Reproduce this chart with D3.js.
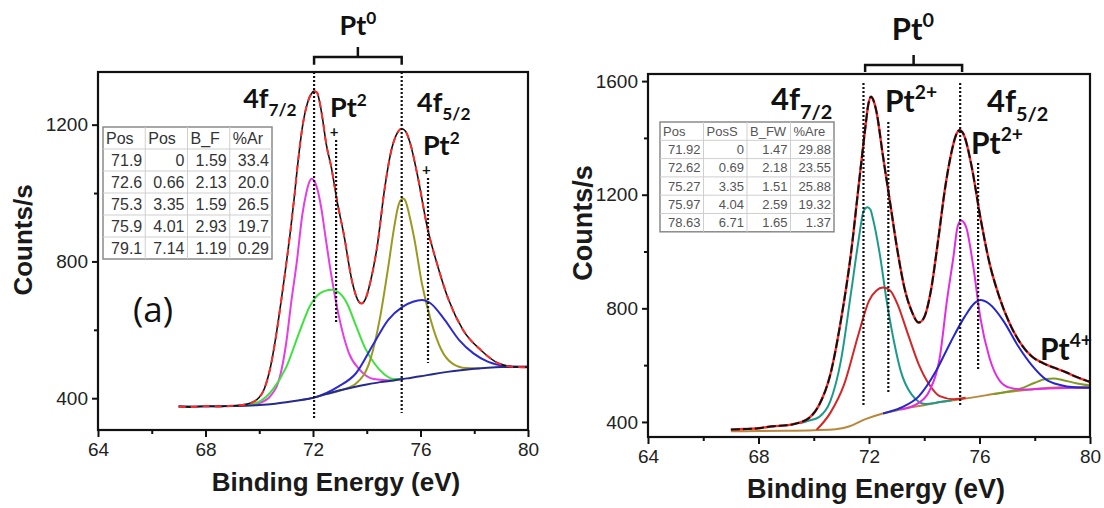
<!DOCTYPE html>
<html>
<head>
<meta charset="utf-8">
<script src="https://cdn.jsdelivr.net/npm/d3@7/dist/d3.min.js"></script>
<style>
  body { margin: 0; background: #fff; }
  svg { display: block; }
</style>
</head>
<body>
<svg id="chart" width="1104" height="508"></svg>
<script>
// ---- data ----
const energyTicks = [64, 68, 72, 76, 80];
const energyMinor = [66, 70, 74, 78];
const countTicksA = [400, 800, 1200];
const countMinorA = [600, 1000];
const countTicksB = [400, 800, 1200, 1600];
const countMinorB = [600, 1000, 1400];

// panel (a): [binding energy, counts/s]
const envelopeA = [[67.0,376],[67.5,374],[68.0,377],[68.5,376],[69.0,378],[69.5,382],[69.9,395],[70.2,430],[70.42,492],[70.62,580],[70.82,687],[71.0,790],[71.15,882],[71.3,985],[71.42,1076],[71.62,1200],[71.8,1265],[71.95,1292],[72.05,1298],[72.15,1294],[72.25,1265],[72.34,1225],[72.5,1140],[72.68,1076],[72.9,975],[73.14,882],[73.47,736],[73.65,690],[73.8,677],[73.95,690],[74.15,745],[74.4,850],[74.66,1010],[74.9,1120],[75.1,1170],[75.3,1188],[75.45,1180],[75.6,1150],[75.9,1047],[76.25,901],[76.65,784],[77.05,687],[77.58,600],[78.24,541],[78.9,502],[79.43,492],[80.0,490]];
const backgroundA = [[67,376],[68,376],[69,377],[70,380],[70.5,383],[71,388],[71.5,394],[72,401],[72.5,412],[73,423],[73.5,432],[74,440],[74.5,447],[75,452],[75.5,458],[76,464],[76.5,471],[77,477],[77.5,482],[78,486],[78.5,489],[79,491],[80,492]];
const pt0_72A = [[69.5,380],[70.0,386],[70.4,405],[70.8,473],[71.0,560],[71.2,687],[71.4,800],[71.6,935],[71.75,1000],[71.85,1030],[71.95,1042],[72.05,1035],[72.15,1015],[72.3,960],[72.45,880],[72.67,765],[72.94,648],[73.34,531],[73.74,483],[74.26,456],[74.9,452],[75.3,456]];
const pt2_72A = [[69.5,380],[70.0,390],[70.5,425],[71.0,490],[71.5,595],[71.9,672],[72.2,703],[72.45,714],[72.7,717],[72.95,710],[73.25,680],[73.6,612],[73.95,545],[74.3,500],[74.65,470],[75.0,456],[75.3,456]];
const pt0_75A = [[72.5,412],[73.07,424],[73.6,443],[74.13,512],[74.5,638],[74.8,784],[75.0,890],[75.15,955],[75.25,978],[75.35,984],[75.45,975],[75.6,930],[75.78,862],[76.05,736],[76.38,629],[76.78,541],[77.18,502],[77.7,488],[78.2,487]];
const pt2_76A = [[71.5,394],[72.0,401],[72.94,434],[73.6,473],[74.26,560],[74.8,629],[75.33,667],[75.72,682],[76.05,687],[76.38,677],[76.9,629],[77.44,570],[77.97,531],[78.5,507],[79.2,494],[80,492]];

// panel (b)
const envelopeB = [[67.0,373],[67.5,375],[68.0,378],[68.55,385],[69.0,388],[69.3,393],[69.83,414],[70.2,461],[70.6,567],[70.98,756],[71.36,1003],[71.62,1227],[71.87,1439],[71.97,1515],[72.07,1545],[72.17,1530],[72.26,1497],[72.51,1333],[72.77,1168],[73.03,1003],[73.28,873],[73.54,791],[73.8,750],[73.99,767],[74.24,862],[74.5,1038],[74.76,1227],[75.0,1356],[75.15,1410],[75.27,1427],[75.38,1420],[75.46,1404],[75.72,1297],[76.03,1121],[76.36,960],[76.7,845],[77.1,745],[77.5,675],[77.9,630],[78.3,607],[78.7,591],[79.1,576],[79.55,557],[80.0,541]];
const backgroundB = [[67,367],[68,368],[69,369],[70,371],[70.8,374],[71.3,385],[71.87,410],[72.5,430],[73.15,444],[73.8,456],[74.43,467],[75.33,480],[76.0,490],[76.5,498],[77,505],[77.5,511],[78,516],[78.5,520],[79,522],[80,524]];
const pt4B = [[76.5,498],[77.0,506],[77.5,518],[78.0,538],[78.4,551],[78.7,553],[79.0,548],[79.5,536],[80.0,528]];
const pt0_72B = [[69.5,395],[69.83,405],[70.2,418],[70.6,473],[70.98,614],[71.36,862],[71.62,1038],[71.81,1144],[71.94,1156],[72.05,1148],[72.13,1121],[72.39,991],[72.64,826],[72.9,685],[73.15,579],[73.54,497],[74.05,463],[74.56,470],[75.0,476]];
const pt2_72B = [[70.1,372],[70.6,432],[71.1,532],[71.62,709],[72.0,826],[72.26,862],[72.51,873],[72.77,862],[73.03,815],[73.41,709],[73.8,603],[74.18,532],[74.56,491],[75.07,480],[75.5,485]];
const pt0_75B = [[73.15,444],[73.8,467],[74.18,508],[74.56,626],[74.82,826],[75.07,991],[75.2,1085],[75.33,1109],[75.45,1100],[75.52,1085],[75.78,944],[76.03,767],[76.36,626],[76.74,544],[77.12,520],[77.64,514],[78.5,518],[80,520]];
const pt2_76B = [[72.51,430],[73.15,450],[73.8,490],[74.43,580],[74.95,680],[75.46,770],[75.84,820],[76.03,829],[76.36,815],[76.87,755],[77.38,670],[77.89,600],[78.4,550],[78.92,530],[79.43,522],[80,520]];

// fit tables
const tableHeadA = ["Pos", "Pos", "B_F", "%Ar"];
const tableRowsA = [
  ["71.9", "0", "1.59", "33.4"],
  ["72.6", "0.66", "2.13", "20.0"],
  ["75.3", "3.35", "1.59", "26.5"],
  ["75.9", "4.01", "2.93", "19.7"],
  ["79.1", "7.14", "1.19", "0.29"]
];
const tableHeadB = ["Pos", "PosS", "B_FW", "%Are"];
const tableRowsB = [
  ["71.92", "0", "1.47", "29.88"],
  ["72.62", "0.69", "2.18", "23.55"],
  ["75.27", "3.35", "1.51", "25.88"],
  ["75.97", "4.04", "2.59", "19.32"],
  ["78.63", "6.71", "1.65", "1.37"]
];

const svg = d3.select("#chart");
const tickFont = "'Liberation Sans', Arial, sans-serif";
const noteFont = "Lato, 'Open Sans', sans-serif";

// text with sub / superscript parts
function richText(g, x, y, parts, size) {
  const t = g.append("text")
    .attr("x", x).attr("y", y)
    .attr("font-family", noteFont)
    .attr("font-weight", 700)
    .attr("font-size", size)
    .attr("fill", "#111");
  let shift = 0;
  parts.forEach(p => {
    const target = p.sub ? size * 0.3 : p.sup ? -size * 0.42 : 0;
    t.append("tspan")
      .attr("dy", target - shift)
      .attr("font-size", p.sub || p.sup ? size * 0.64 : size)
      .text(p.t);
    shift = target;
  });
  return t;
}

function drawTable(g, x0, y0, colW, rowH, head, rows, size, color) {
  const tg = g.append("g").attr("font-family", tickFont).attr("font-size", size).attr("fill", color);
  const all = [head, ...rows];
  const w = colW * head.length, h = rowH * all.length;
  tg.append("rect").attr("x", x0).attr("y", y0).attr("width", w).attr("height", h)
    .attr("fill", "#fff").attr("stroke", "#8a8a8a").attr("stroke-width", 1.5);
  for (let i = 1; i < head.length; i++)
    tg.append("line").attr("x1", x0 + i * colW).attr("x2", x0 + i * colW)
      .attr("y1", y0).attr("y2", y0 + h).attr("stroke", "#cfcfcf");
  for (let j = 1; j < all.length; j++)
    tg.append("line").attr("x1", x0).attr("x2", x0 + w)
      .attr("y1", y0 + j * rowH).attr("y2", y0 + j * rowH).attr("stroke", "#cfcfcf");
  all.forEach((row, j) => row.forEach((cell, i) => {
    tg.append("text")
      .attr("x", j === 0 ? x0 + i * colW + 3 : x0 + (i + 1) * colW - 3)
      .attr("y", y0 + j * rowH + rowH / 2)
      .attr("dy", "0.36em")
      .attr("text-anchor", j === 0 ? "start" : "end")
      .text(cell);
  }));
}

function drawPanel(cfg) {
  const x = d3.scaleLinear([64, 80], [cfg.left, cfg.right]);
  const y = d3.scaleLinear(cfg.yDomain, [cfg.bottom, cfg.top]);
  const g = svg.append("g");

  const line = d3.line()
    .curve(d3.curveMonotoneX)
    .x(d => x(d[0]))
    .y(d => y(d[1]));

  // components first, envelope on top
  cfg.components.forEach(c => {
    g.append("path").attr("d", line(c.data))
      .attr("fill", "none").attr("stroke", c.color).attr("stroke-width", 2);
  });
  cfg.envelopeLayers.forEach(s => {
    g.append("path").attr("d", line(cfg.envelope))
      .attr("fill", "none").attr("stroke", s.color).attr("stroke-width", s.width)
      .attr("stroke-dasharray", s.dash || null);
  });

  // dotted peak markers
  cfg.markers.forEach(m => {
    g.append("line")
      .attr("x1", x(m.e)).attr("x2", x(m.e))
      .attr("y1", y(m.from)).attr("y2", y(m.to))
      .attr("stroke", "#111").attr("stroke-width", 2.2)
      .attr("stroke-dasharray", "2,2");
  });

  // axes
  const xAxis = g.append("g").attr("transform", `translate(0,${cfg.bottom})`)
    .call(d3.axisBottom(x).tickValues(energyTicks).tickSize(7).tickPadding(6).tickFormat(d3.format("d")));
  g.append("g").attr("transform", `translate(0,${cfg.bottom})`)
    .call(d3.axisBottom(x).tickValues(energyMinor).tickSize(4).tickFormat(""))
    .call(a => a.select(".domain").remove());
  const yAxis = g.append("g").attr("transform", `translate(${cfg.left},0)`)
    .call(d3.axisLeft(y).tickValues(cfg.yTicks).tickSize(6).tickPadding(4).tickFormat(d3.format("d")));
  g.append("g").attr("transform", `translate(${cfg.left},0)`)
    .call(d3.axisLeft(y).tickValues(cfg.yMinor).tickSize(4).tickFormat(""))
    .call(a => a.select(".domain").remove());
  [xAxis, yAxis].forEach(a => {
    a.select(".domain").remove();
    a.selectAll("text").attr("font-family", tickFont).attr("font-size", 19).attr("fill", "#222");
  });
  g.selectAll(".tick line").attr("stroke", "#111").attr("stroke-width", 2);

  g.append("rect")
    .attr("x", cfg.left).attr("y", cfg.top)
    .attr("width", cfg.right - cfg.left).attr("height", cfg.bottom - cfg.top)
    .attr("fill", "none").attr("stroke", "#111").attr("stroke-width", 2.2);

  // axis titles
  g.append("text")
    .attr("x", (cfg.left + cfg.right) / 2 + cfg.xTitleDx).attr("y", cfg.xTitleY)
    .attr("text-anchor", "middle")
    .attr("font-family", tickFont).attr("font-weight", 700).attr("font-size", cfg.titleSize)
    .attr("fill", "#1a1a1a")
    .text("Binding Energy (eV)");
  g.append("text")
    .attr("transform", `translate(${cfg.yTitleX},${cfg.yTitleY}) rotate(-90)`)
    .attr("text-anchor", "middle")
    .attr("dy", "0.36em")
    .attr("font-family", tickFont).attr("font-weight", 700).attr("font-size", cfg.titleSize)
    .attr("fill", "#1a1a1a")
    .text("Counts/s");

  // Pt0 bracket
  const b = cfg.bracket;
  g.append("path")
    .attr("d", `M${x(b.e0)},${y(b.end)}V${y(b.bar)}H${x(b.e1)}V${y(b.end)}M${(x(b.e0) + x(b.e1)) / 2},${y(b.bar)}V${y(b.tip)}`)
    .attr("fill", "none").attr("stroke", "#111").attr("stroke-width", 2.5);

  cfg.labels.forEach(l => richText(g, x(l.e), y(l.c), l.parts, l.size).attr("text-anchor", l.anchor || "start"));

  drawTable(g, cfg.table.x, cfg.table.y, cfg.table.colW, cfg.table.rowH,
    cfg.table.head, cfg.table.rows, cfg.table.size, cfg.table.color);

  return {g, x, y};
}

// ---- panel (a) ----
const pa = drawPanel({
  left: 98, right: 528, top: 72, bottom: 430, yDomain: [307, 1354],
  yTicks: countTicksA, yMinor: countMinorA,
  envelope: envelopeA,
  envelopeLayers: [{color: "#111", width: 1.6}, {color: "#ff2a2a", width: 2, dash: "7,5"}],
  components: [
    {data: pt0_72A, color: "#e43ee4"},
    {data: pt2_72A, color: "#3ee23e"},
    {data: pt0_75A, color: "#9a9a22"},
    {data: pt2_76A, color: "#2b2bd0"},
    {data: backgroundA, color: "#262a8c"}
  ],
  markers: [
    {e: 72.04, from: 1354, to: 342},
    {e: 75.3, from: 1354, to: 357},
    {e: 72.86, from: 1155, to: 620},
    {e: 76.28, from: 1044, to: 503}
  ],
  bracket: {e0: 72.04, e1: 75.3, bar: 1398, end: 1375, tip: 1427},
  labels: [
    {e: 73.67, c: 1462, size: 27, anchor: "middle", parts: [{t: "Pt"}, {t: "0", sup: true}]},
    {e: 69.4, c: 1249, size: 27, parts: [{t: "4f"}, {t: "7/2", sub: true}]},
    {e: 72.63, c: 1222, size: 27, parts: [{t: "Pt"}, {t: "2", sup: true}]},
    {e: 72.62, c: 1164, size: 15, parts: [{t: "+"}]},
    {e: 75.87, c: 1237, size: 27, parts: [{t: "4f"}, {t: "5/2", sub: true}]},
    {e: 76.09, c: 1111, size: 27, parts: [{t: "Pt"}, {t: "2", sup: true}]},
    {e: 76.06, c: 1053, size: 15, parts: [{t: "+"}]}
  ],
  table: {x: 103, y: 127, colW: 42.25, rowH: 22, head: tableHeadA, rows: tableRowsA, size: 16, color: "#333"},
  titleSize: 26, xTitleDx: 23, xTitleY: 491, yTitleX: 23, yTitleY: 240
});

pa.g.append("text")
  .attr("x", pa.x(65.3)).attr("y", pa.y(623))
  .attr("font-family", "'Open Sans', sans-serif").attr("font-size", 35).attr("fill", "#111")
  .text("(a)");

// ---- panel (b) ----
drawPanel({
  left: 648, right: 1090, top: 74, bottom: 437, yDomain: [347, 1625],
  yTicks: countTicksB, yMinor: countMinorB,
  envelope: envelopeB,
  envelopeLayers: [{color: "#ff2a2a", width: 2.4}, {color: "#111", width: 2, dash: "9,3"}],
  components: [
    {data: backgroundB, color: "#b9873a"},
    {data: pt4B, color: "#7f9a24"},
    {data: pt0_72B, color: "#1e9a8a"},
    {data: pt2_72B, color: "#d42626"},
    {data: pt0_75B, color: "#e22ee2"},
    {data: pt2_76B, color: "#2626d0"}
  ],
  markers: [
    {e: 71.8, from: 1593, to: 453},
    {e: 75.3, from: 1593, to: 453},
    {e: 72.7, from: 1456, to: 502},
    {e: 75.95, from: 1312, to: 583}
  ],
  bracket: {e0: 71.86, e1: 75.37, bar: 1657, end: 1632, tip: 1692},
  labels: [
    {e: 73.59, c: 1745, size: 31, anchor: "middle", parts: [{t: "Pt"}, {t: "0", sup: true}]},
    {e: 68.45, c: 1498, size: 31, parts: [{t: "4f"}, {t: "7/2", sub: true}]},
    {e: 72.58, c: 1491, size: 30, parts: [{t: "Pt"}, {t: "2+", sup: true}]},
    {e: 76.27, c: 1491, size: 31, parts: [{t: "4f"}, {t: "5/2", sub: true}]},
    {e: 75.69, c: 1343, size: 30, parts: [{t: "Pt"}, {t: "2+", sup: true}]},
    {e: 78.19, c: 618, size: 30, parts: [{t: "Pt"}, {t: "4+", sup: true}]}
  ],
  table: {x: 660, y: 122, colW: 43.5, rowH: 18.3, head: tableHeadB, rows: tableRowsB, size: 13, color: "#555"},
  titleSize: 27, xTitleDx: 7, xTitleY: 498, yTitleX: 582, yTitleY: 223
});
</script>
</body>
</html>
